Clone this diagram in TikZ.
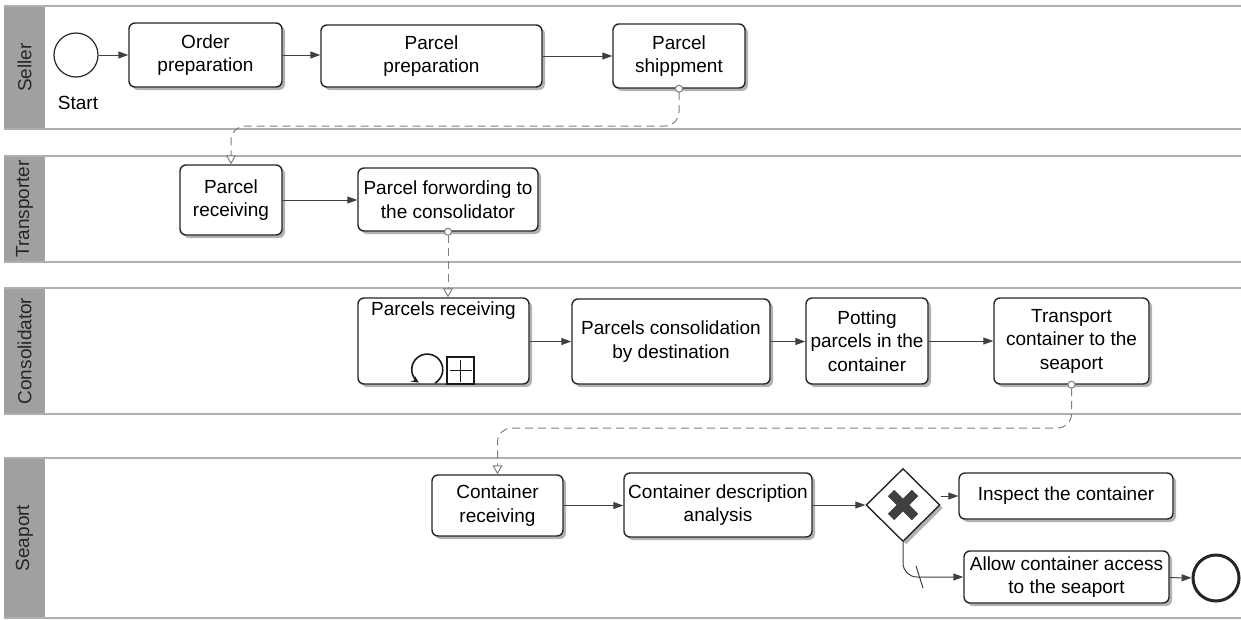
\documentclass[tikz,border=0pt]{standalone}
\usepackage{fontspec}
\setmainfont{Liberation Sans}
\usetikzlibrary{arrows.meta,shapes.geometric,shadows,calc}
\definecolor{headgray}{RGB}{160,160,160}
\definecolor{lanegray}{RGB}{175,175,175}
\definecolor{flowgray}{RGB}{64,64,64}
\definecolor{msggray}{RGB}{128,128,128}
\begin{document}
\begin{tikzpicture}[x=1pt,y=-1pt,
  font=\fontsize{19}{23.5}\selectfont,
  boxshadow/.style={drop shadow={shadow xshift=3pt,shadow yshift=-3pt,fill=black!50,opacity=0.6}},
  task/.style={draw=black!85,line width=1.4pt,rounded corners=6pt,fill=white,align=center,inner sep=0pt,boxshadow},
  lanehead/.style={fill=headgray,draw=none},
  lanelabel/.style={rotate=90,font=\fontsize{19}{22}\selectfont,text=black!85},
  laneline/.style={draw=lanegray,line width=1.3pt},
  seq/.style={draw=flowgray,line width=1pt,-{Triangle[length=10pt,width=7pt]}},
  msg/.style={draw=msggray,line width=1pt,dash pattern=on 8pt off 5pt,rounded corners=14pt,
    {Circle[open,length=8pt,width=8pt,fill=white]}-{Triangle[open,length=9pt,width=10pt,fill=white]},shorten <=-4pt},
  evt/.style={circle,draw=black!85,fill=white,inner sep=0pt}
]
\path[fill=white] (0,0) rectangle (1241,619);
\useasboundingbox (0,0) rectangle (1241,619);

% lanes
\foreach \t/\b/\n in {6/129/Seller,156/262/Transporter,288/414/Consolidator,458/618/Seaport}{
  \fill[lanehead] (4,\t) rectangle (45,\b);
  \draw[laneline] (4,\t) -- (1241,\t);
  \draw[laneline] (4,\b) -- (1241,\b);
  \node[lanelabel] (lane\n) at (24.5,{(\t+\b)/2}) {\n};
}

% Seller
\node[evt,minimum size=44pt,line width=1.2pt] (start) at (76,55) {};
\node (startlbl) at (78,103) {Start};
\node[task,minimum width=153pt,minimum height=64pt] (order) at (205.5,55) {Order\\preparation};
\node[task,minimum width=221pt,minimum height=62pt] (pprep) at (431.5,56) {Parcel\\preparation};
\node[task,minimum width=132pt,minimum height=64pt] (ship) at (679,56) {Parcel\\shippment};

% Transporter
\node[task,minimum width=102pt,minimum height=70pt] (precv) at (231,200) {Parcel\\receiving};
\node[task,minimum width=180pt,minimum height=63pt] (fwd) at (448,199.5) {Parcel forwording to\\the consolidator};

% Consolidator
\node[task,minimum width=171pt,minimum height=86pt,
  label={[anchor=north,yshift=-1pt]north:Parcels receiving}] (pr) at (443.5,341) {};
\node[task,minimum width=198pt,minimum height=85pt] (cons) at (671,341.5) {Parcels consolidation\\by destination};
\node[task,minimum width=122pt,minimum height=86pt] (pot) at (867,341) {Potting\\parcels in the\\container};
\node[task,minimum width=155pt,minimum height=86pt] (trans) at (1071.5,341) {Transport\\container to the\\seaport};

% sub-process markers
\draw[line width=1.6pt,black!90,-{Stealth[length=7pt,width=7pt]}] (435,383) arc[start angle=60,end angle=-237,radius=15.5];
\draw[line width=1.3pt,black!90] (447,357) rectangle (474,384);
\draw[line width=1.8pt,black!90] (449.5,370.5) -- (471.5,370.5) (460.5,359.5) -- (460.5,381.5);

% Seaport
\node[task,minimum width=131pt,minimum height=61pt] (crecv) at (497.5,505.5) {Container\\receiving};
\node[task,minimum width=188pt,minimum height=64pt] (cdesc) at (718,505) {Container description\\analysis};
\node[diamond,draw=black!85,line width=1.4pt,fill=white,inner sep=0pt,minimum width=74pt,minimum height=73pt,boxshadow] (gw) at (903,505) {};
\draw[flowgray,line width=9pt] (891,493) -- (915,517) (915,493) -- (891,517);
\node[task,minimum width=214pt,minimum height=46pt] (insp) at (1066,496) {Inspect the container};
\node[task,minimum width=205pt,minimum height=52pt] (allow) at (1066.5,577) {Allow container access\\to the seaport};
\node[evt,minimum size=46pt,line width=3pt] (end) at (1216,578) {};

% sequence flows
\draw[seq] (start) -- (order);
\draw[seq] (order) -- (order.east -| pprep.west);
\draw[seq] (pprep) -- (ship);
\draw[seq] (precv) -- (precv.east -| fwd.west);
\draw[seq] (pr.east |- cons.west) -- (cons.west);
\draw[seq] (cons) -- (cons.east -| pot.west);
\draw[seq] (pot) -- (pot.east -| trans.west);
\draw[seq] (crecv) -- (crecv.east -| cdesc.west);
\draw[seq] (cdesc) -- (gw);
\draw[seq] (gw.east |- insp.west) -- (insp.west);
\draw[seq,rounded corners=14pt] (gw.south) |- (allow.west);
\draw[flowgray,line width=1pt] (916,566) -- (923,588);
\draw[seq] (allow) -- (end);

% message flows
\coordinate (m1) at (231,126);
\coordinate (m3) at (497.5,428);
\draw[msg] (ship.south) |- (m1) -- (precv.north);
\draw[msg] (fwd.south) -- (fwd.south |- pr.north);
\draw[msg] (trans.south) |- (m3) -- (crecv.north);
\end{tikzpicture}
\end{document}
